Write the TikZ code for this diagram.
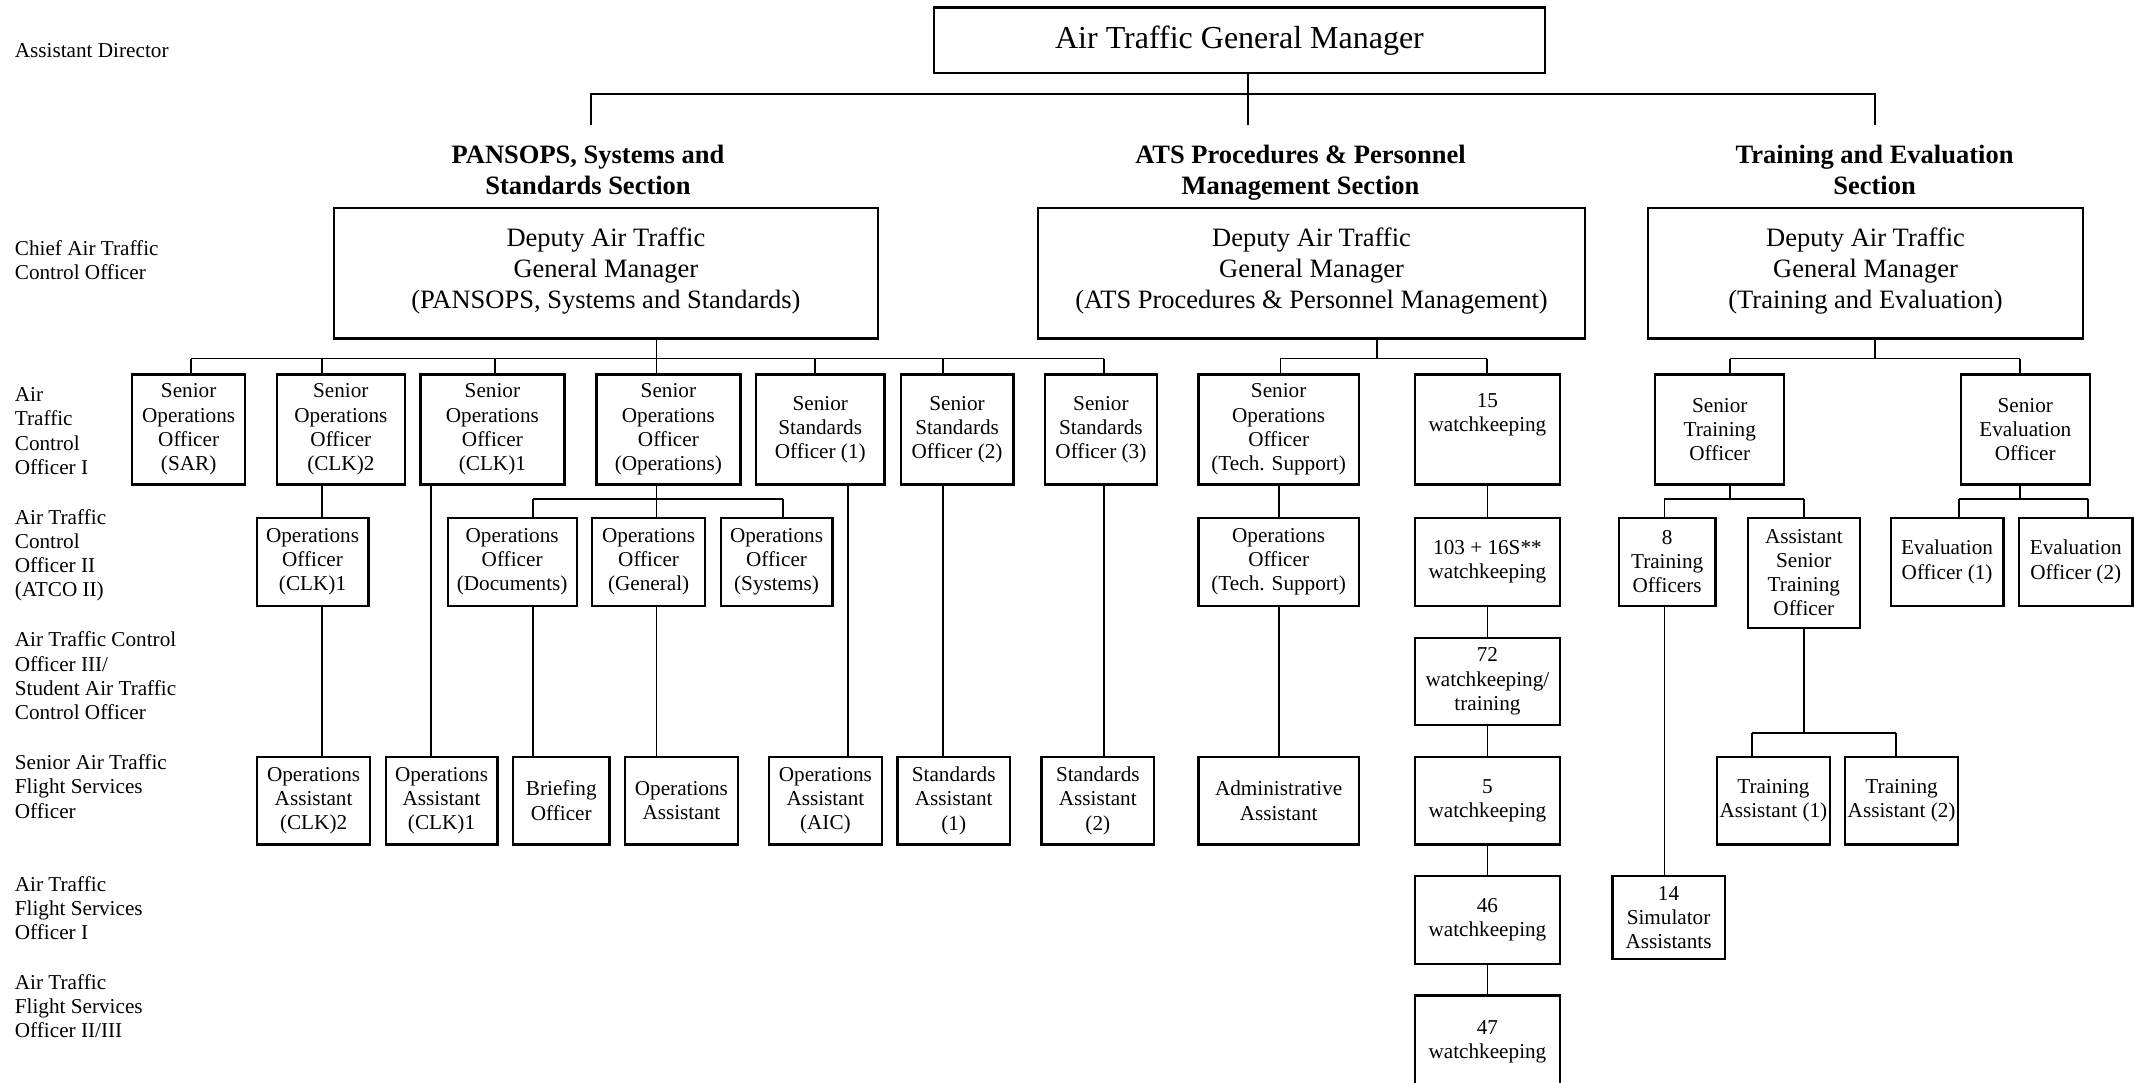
\documentclass[tikz,border=0pt]{standalone}
\usepackage{fontspec}
\setmainfont{Liberation Serif}

\begin{document}
\begin{tikzpicture}[x=1pt,y=-1pt,line width=1.8pt,
squarednode/.style={rectangle,draw,line width=2.2pt,inner sep=0pt,align=center,font=\fontsize{21.2}{24.2}\selectfont},
widenode/.style={rectangle,draw,line width=2.2pt,inner sep=0pt,align=center,font=\fontsize{26.5}{31}\selectfont},
titlenode/.style={inner sep=0pt,align=center,font=\fontsize{26.5}{31}\selectfont\bfseries},
ranknode/.style={anchor=north west,inner sep=0pt,align=left,font=\fontsize{21.2}{24.2}\selectfont}]

\useasboundingbox (0,0) rectangle (2134,1082);

\node [widenode,minimum width=611pt,minimum height=65.5pt,font=\fontsize{32}{38}\selectfont] (0) at (1239.5, 40.25) {Air Traffic General Manager};

\node [titlenode] (40) at (588, 169.5) {PANSOPS, Systems and\\Standards Section};
\node [titlenode] (41) at (1300.5, 172.3) {ATS Procedures \& Personnel\\Management Section};
\node [titlenode] (42) at (1874.6, 169.5) {Training and Evaluation\\Section};

\node [widenode,minimum width=544.3pt,minimum height=130.5pt] (1) at (605.9, 273.25) {Deputy Air Traffic\\General Manager\\(PANSOPS, Systems and Standards)\\[-21pt]~};
\node [widenode,minimum width=547pt,minimum height=130.5pt] (2) at (1311.5, 273.25) {Deputy Air Traffic\\General Manager\\(ATS Procedures \& Personnel Management)\\[-21pt]~};
\node [widenode,minimum width=435pt,minimum height=130.5pt] (3) at (1865.5, 273.25) {Deputy Air Traffic\\General Manager\\(Training and Evaluation)\\[-21pt]~};

\node [squarednode,minimum width=112.7pt,minimum height=110pt] (4) at (188.65, 429.5) {Senior\\Operations\\Officer\\(SAR)};
\node [squarednode,minimum width=128.3pt,minimum height=110pt] (5) at (340.85, 429.5) {Senior\\Operations\\Officer\\(CLK)2};
\node [squarednode,minimum width=144pt,minimum height=110pt] (6) at (492.4, 429.5) {Senior\\Operations\\Officer\\(CLK)1};
\node [squarednode,minimum width=144pt,minimum height=110pt] (7) at (668.4, 429.5) {Senior\\Operations\\Officer\\(Operations)};
\node [squarednode,minimum width=128.3pt,minimum height=110pt] (8) at (820.25, 429.5) {Senior\\Standards\\Officer (1)};
\node [squarednode,minimum width=112.6pt,minimum height=110pt] (9) at (957.1, 429.5) {Senior\\Standards\\Officer (2)};
\node [squarednode,minimum width=112.2pt,minimum height=110pt] (10) at (1100.9, 429.5) {Senior\\Standards\\Officer (3)};
\node [squarednode,minimum width=160.5pt,minimum height=110pt] (11) at (1278.65, 429.5) {Senior\\Operations\\Officer\\(Tech. Support)};
\node [squarednode,minimum width=145.1pt,minimum height=110pt] (12) at (1487.45, 429.5) {15\\watchkeeping\\[10pt]~};
\node [squarednode,minimum width=128.9pt,minimum height=110pt] (13) at (1719.75, 429.5) {Senior\\Training\\Officer};
\node [squarednode,minimum width=128.9pt,minimum height=110pt] (14) at (2025.25, 429.5) {Senior\\Evaluation\\Officer};

\node [squarednode,minimum width=111.9pt,minimum height=88pt] (15) at (312.55, 561.8) {Operations\\Officer\\(CLK)1};
\node [squarednode,minimum width=128.9pt,minimum height=88pt] (16) at (512.15, 561.8) {Operations\\Officer\\(Documents)};
\node [squarednode,minimum width=112.6pt,minimum height=88pt] (17) at (648.6, 561.8) {Operations\\Officer\\(General)};
\node [squarednode,minimum width=111.9pt,minimum height=88pt] (18) at (776.55, 561.8) {Operations\\Officer\\(Systems)};
\node [squarednode,minimum width=160.5pt,minimum height=88pt] (19) at (1278.65, 561.8) {Operations\\Officer\\(Tech. Support)};
\node [squarednode,minimum width=145.1pt,minimum height=88pt] (20) at (1487.45, 561.8) {103 + 16S**\\watchkeeping};
\node [squarednode,minimum width=96.7pt,minimum height=88pt] (21) at (1667.15, 561.8) {8\\Training\\Officers};
\node [squarednode,minimum width=112.1pt,minimum height=109.9pt] (22) at (1803.85, 572.75) {Assistant\\Senior\\Training\\Officer};
\node [squarednode,minimum width=112.8pt,minimum height=88pt] (23) at (1947.1, 561.8) {Evaluation\\Officer (1)};
\node [squarednode,minimum width=113.5pt,minimum height=88pt] (24) at (2075.75, 561.8) {Evaluation\\Officer (2)};

\node [squarednode,minimum width=145.1pt,minimum height=87.3pt] (25) at (1487.45, 681.35) {72\\watchkeeping/\\training};

\node [squarednode,minimum width=112.6pt,minimum height=87.6pt] (26) at (313.6, 800.7) {Operations\\Assistant\\(CLK)2};
\node [squarednode,minimum width=111.9pt,minimum height=87.6pt] (27) at (441.55, 800.7) {Operations\\Assistant\\(CLK)1};
\node [squarednode,minimum width=96.2pt,minimum height=87.6pt] (28) at (561.3, 800.7) {Briefing\\Officer};
\node [squarednode,minimum width=112.6pt,minimum height=87.6pt] (29) at (681.4, 800.7) {Operations\\Assistant};
\node [squarednode,minimum width=112.6pt,minimum height=87.6pt] (30) at (825.4, 800.7) {Operations\\Assistant\\(AIC)};
\node [squarednode,minimum width=112.6pt,minimum height=87.6pt] (31) at (953.7, 800.7) {Standards\\Assistant\\(1)};
\node [squarednode,minimum width=112.8pt,minimum height=87.6pt] (32) at (1097.8, 800.7) {Standards\\Assistant\\(2)};
\node [squarednode,minimum width=160.5pt,minimum height=87.6pt] (33) at (1278.65, 800.7) {Administrative\\Assistant};
\node [squarednode,minimum width=145.1pt,minimum height=87.6pt] (34) at (1487.45, 800.7) {5\\watchkeeping};
\node [squarednode,minimum width=112.8pt,minimum height=87.6pt] (35) at (1773.4, 800.7) {Training\\Assistant (1)};
\node [squarednode,minimum width=112.8pt,minimum height=87.6pt] (36) at (1901.6, 800.7) {Training\\Assistant (2)};

\node [squarednode,minimum width=145.1pt,minimum height=88pt] (37) at (1487.45, 920) {46\\watchkeeping};
\node [squarednode,minimum width=112.1pt,minimum height=82.8pt] (38) at (1668.55, 917.4) {14\\Simulator\\Assistants};
\node [squarednode,minimum width=145.1pt,minimum height=92pt] (39) at (1487.45, 1041.5) {47\\watchkeeping};

\node [ranknode] (43) at (14, 42.1) {Assistant Director};
\node [ranknode] (44) at (14, 239.5) {Chief Air Traffic\\Control Officer};
\node [ranknode] (45) at (14, 386.8) {Air\\Traffic\\Control\\Officer I};
\node [ranknode] (46) at (14, 508.2) {Air Traffic\\Control\\Officer II\\(ATCO II)};
\node [ranknode] (47) at (14, 631.1) {Air Traffic Control\\Officer III/\\Student Air Traffic\\Control Officer};
\node [ranknode] (48) at (14, 753.9) {Senior Air Traffic\\Flight Services\\Officer};
\node [ranknode] (49) at (14, 875.7) {Air Traffic\\Flight Services\\Officer I};
\node [ranknode] (50) at (14, 973.3) {Air Traffic\\Flight Services\\Officer II/III};

\coordinate (0b) at (1248, 94);
\coordinate (40b) at (591, 125);
\coordinate (41b) at (1248, 125);
\coordinate (42b) at (1874.6, 125);
\coordinate (1b) at (656.5, 358.5);
\coordinate (4b) at (190.7, 358.5);
\coordinate (5b) at (321.8, 358.5);
\coordinate (6b) at (494.7, 358.5);
\coordinate (8b) at (814.8, 358.5);
\coordinate (9b) at (943.1, 358.5);
\coordinate (10b) at (1103.8, 358.5);
\coordinate (2b) at (1377.1, 358.5);
\coordinate (11b) at (1280.4, 358.5);
\coordinate (12b) at (1487.1, 358.5);
\coordinate (3b) at (1874.6, 358.5);
\coordinate (13b) at (1730.3, 358.5);
\coordinate (14b) at (2019.7, 358.5);
\coordinate (16b) at (533, 499.3);
\coordinate (17b) at (656.5, 499.3);
\coordinate (18b) at (782.7, 499.3);
\coordinate (21b) at (1664.4, 499.3);
\coordinate (22b) at (1803.8, 499.3);
\coordinate (23b) at (1958.7, 499.3);
\coordinate (24b) at (2087.6, 499.3);
\coordinate (35b) at (1752, 733.1);
\coordinate (36b) at (1896.3, 733.1);
\coordinate (27b) at (430.6, 756.9);
\coordinate (30b) at (847.6, 756.9);

\draw (0.south -| 0b) to (41b);
\draw (40b) |- (0b) -| (42b);

\draw (1.south -| 1b) to (1b);
\draw (4b) to (10b);
\draw (4b) to (4.north -| 4b);
\draw (5b) to (5.north -| 5b);
\draw (6b) to (6.north -| 6b);
\draw (1b) to (7.north -| 1b);
\draw (8b) to (8.north -| 8b);
\draw (9b) to (9.north -| 9b);
\draw (10b) to (10.north -| 10b);
\draw (2.south -| 2b) to (2b);
\draw (11b) to (12b);
\draw (11b) to (11.north -| 11b);
\draw (12b) to (12.north -| 12b);
\draw (3.south -| 3b) to (3b);
\draw (13b) to (14b);
\draw (13b) to (13.north -| 13b);
\draw (14b) to (14.north -| 14b);

\draw (7.south -| 17b) to (17b);
\draw (16b) to (18b);
\draw (16b) to (16.north -| 16b);
\draw (17b) to (17.north -| 17b);
\draw (18b) to (18.north -| 18b);
\draw (13.south -| 13b) to (13b |- 21b);
\draw (21b) to (22b);
\draw (21b) to (21.north -| 21b);
\draw (22b) to (22.north -| 22b);
\draw (14.south -| 14b) to (14b |- 23b);
\draw (23b) to (24b);
\draw (23b) to (23.north -| 23b);
\draw (24b) to (24.north -| 24b);
\draw (22.south -| 22b) to (22b |- 35b);
\draw (35b) to (36b);
\draw (35b) to (35.north -| 35b);
\draw (36b) to (36.north -| 36b);

\draw (5.south -| 5b) to (15.north -| 5b);
\draw (15.south -| 5b) to (26.north -| 5b);
\draw (6.south -| 27b) to (27b);
\draw (16.south -| 16b) to (28.north -| 16b);
\draw (17.south -| 17b) to (29.north -| 17b);
\draw (8.south -| 30b) to (30b);
\draw (9.south -| 9b) to (31.north -| 9b);
\draw (10.south -| 10b) to (32.north -| 10b);
\draw (11) to (19);
\draw (19) to (33);
\draw (12) to (20);
\draw (20) to (25);
\draw (25) to (34);
\draw (34) to (37);
\draw (37) to (39);
\draw (21.south -| 21b) to (38.north -| 21b);
\end{tikzpicture}
\end{document}
